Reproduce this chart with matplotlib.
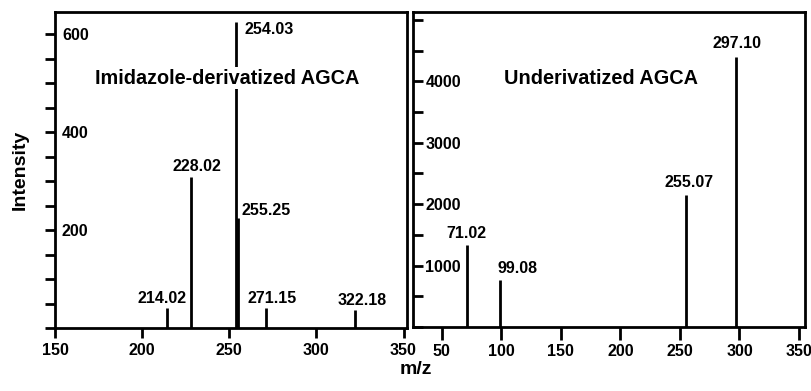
import matplotlib
matplotlib.use("Agg")
import matplotlib.pyplot as plt
from matplotlib.ticker import MultipleLocator

plt.rcParams['font.family'] = ['Liberation Sans', 'DejaVu Sans']
plt.rcParams['font.weight'] = 'bold'

# left panel: imidazole-derivatized AGCA
deriv_mz = [214.02, 228.02, 254.03, 255.25, 271.15, 322.18]
deriv_int = [40, 309, 624, 224, 40, 36]
deriv_title = "Imidazole-derivatized AGCA"

# right panel: underivatized AGCA
underiv_mz = [71.02, 99.08, 255.07, 297.10]
underiv_int = [1340, 760, 2145, 4400]
underiv_title = "Underivatized AGCA"

W, H = 811, 391
fig = plt.figure(figsize=(W / 100, H / 100), dpi=100)

def box(l, r, t, b):
    return [l / W, 1 - b / H, (r - l) / W, (b - t) / H]

ax1 = fig.add_axes(box(55, 407, 12, 328))
ax2 = fig.add_axes(box(413, 805, 12, 327))

def style(ax, ydir, ypad, xlen):
    for s in ax.spines.values():
        s.set_linewidth(2)
    ax.tick_params(axis='x', which='both', direction='out', length=xlen, width=2,
                   labelsize=11.5, pad=3)
    ax.tick_params(axis='y', which='both', direction=ydir, length=7, width=2,
                   labelsize=11.5, pad=ypad)
    for lab in ax.get_yticklabels():
        lab.set_horizontalalignment('left')
        lab.set_fontweight('bold')
    for lab in ax.get_xticklabels():
        lab.set_fontweight('bold')

def peaks(ax, mz, inten, fmt):
    ax.vlines(mz, 0, inten, colors='black', linewidth=2)
    for m, v, (ha, va, dx, dy) in zip(mz, inten, fmt):
        ax.annotate(f"{m:.2f}", (m, v), xytext=(dx, dy), textcoords='offset points',
                    ha=ha, va=va, fontsize=11.5, fontweight='bold')

# left
ax1.set_xlim(150, 352)
ax1.set_ylim(0, 645)
ax1.set_xticks([150, 200, 250, 300, 350])
ax1.set_yticks([200, 400, 600])
ax1.yaxis.set_minor_locator(MultipleLocator(50))
peaks(ax1, deriv_mz, deriv_int,
      [('center', 'bottom', -3, 2), ('center', 'bottom', 4, 2),
       ('left', 'top', 6, 0), ('left', 'bottom', 2, 0),
       ('center', 'bottom', 4, 2), ('center', 'bottom', 5, 2)])
ax1.text(0.49, 0.79, deriv_title, transform=ax1.transAxes, ha='center', va='center',
         fontsize=14.3, fontweight='bold',
         bbox=dict(facecolor='white', edgecolor='none', pad=1))
style(ax1, 'out', -12, 7.5)

# right
ax2.set_xlim(26, 355)
ax2.set_ylim(0, 5130)
ax2.set_xticks([50, 100, 150, 200, 250, 300, 350])
ax2.set_yticks([1000, 2000, 3000, 4000])
ax2.yaxis.set_minor_locator(MultipleLocator(500))
peaks(ax2, underiv_mz, underiv_int,
      [('center', 'bottom', 0, 3), ('left', 'bottom', -2, 3),
       ('center', 'bottom', 2, 4), ('center', 'bottom', 1, 4)])
ax2.text(0.48, 0.79, underiv_title, transform=ax2.transAxes, ha='center', va='center',
         fontsize=14.3, fontweight='bold')
style(ax2, 'in', -9, 9)

fig.text(20 / W, 1 - 170 / H, "Intensity", rotation=90, ha='center', va='center',
         fontsize=14, fontweight='bold')
fig.text(416 / W, 1 - 361 / H, "m/z", ha='center', va='top',
         fontsize=14, fontweight='bold')

fig.savefig("out.png", dpi=100)
